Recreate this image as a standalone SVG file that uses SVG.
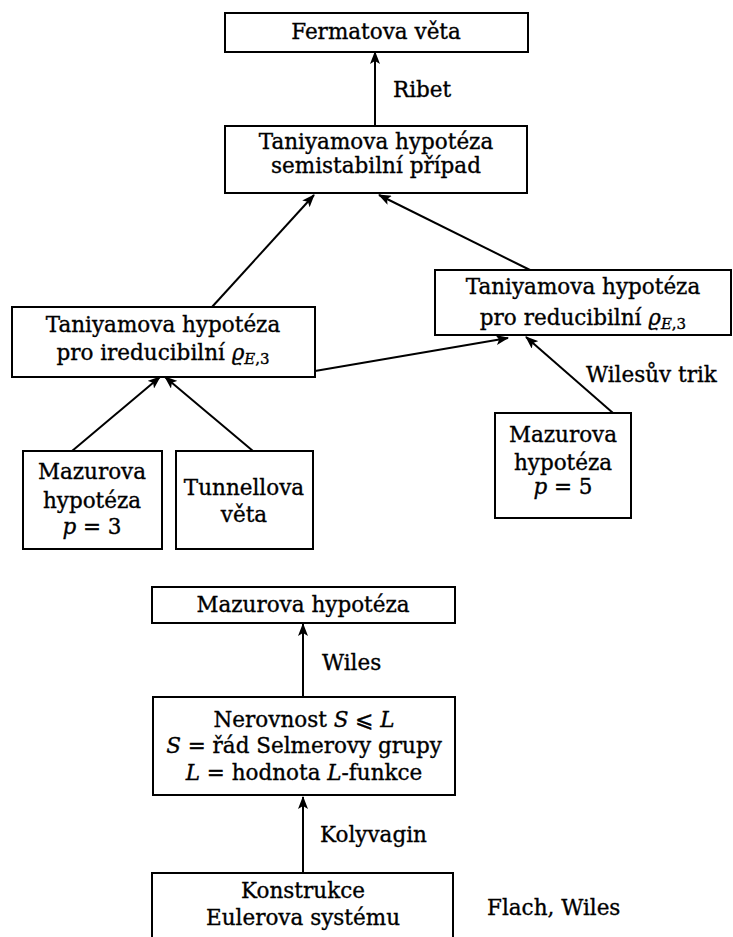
<svg xmlns="http://www.w3.org/2000/svg" width="733" height="937" viewBox="0 0 733 937">
<defs>
<style>
.box{fill:#fff;stroke:#000;stroke-width:2}
.t{font-family:"DejaVu Serif","Liberation Serif",serif;font-size:21.5px;fill:#000;stroke:#000;stroke-width:0.35;text-anchor:middle}
.l{font-family:"DejaVu Serif","Liberation Serif",serif;font-size:21.5px;fill:#000;stroke:#000;stroke-width:0.35}
.i{font-style:italic}
.s{font-size:15px}
.c{fill:none;stroke:#000;stroke-width:2}
</style>
<marker id="ah" viewBox="0 0 13 10" refX="12" refY="5" markerWidth="13" markerHeight="10" markerUnits="userSpaceOnUse" orient="auto">
<path d="M0,0 L13,5 L0,10 L3,5 z" fill="#000"/>
</marker>
</defs>
<rect width="733" height="937" fill="#fff"/>
<g id="connectors">
<line class="c" x1="375" y1="126" x2="375" y2="52" marker-end="url(#ah)"/>
<line class="c" x1="212" y1="307" x2="314" y2="195" marker-end="url(#ah)"/>
<line class="c" x1="530" y1="270" x2="379" y2="195" marker-end="url(#ah)"/>
<line class="c" x1="315" y1="371" x2="508" y2="338" marker-end="url(#ah)"/>
<line class="c" x1="613" y1="413" x2="526" y2="337" marker-end="url(#ah)"/>
<line class="c" x1="72" y1="451" x2="160" y2="377" marker-end="url(#ah)"/>
<line class="c" x1="253" y1="451" x2="165" y2="377" marker-end="url(#ah)"/>
<line class="c" x1="303" y1="697" x2="303" y2="624" marker-end="url(#ah)"/>
<line class="c" x1="303" y1="873" x2="303" y2="797" marker-end="url(#ah)"/>
<text class="l" x="393" y="97">Ribet</text>
<text class="l" x="586" y="382">Wilesův trik</text>
<text class="l" x="322" y="670">Wiles</text>
<text class="l" x="320" y="842">Kolyvagin</text>
<text class="l" x="487" y="915">Flach, Wiles</text>
</g>
<g id="fermat">
<rect class="box" x="225" y="13" width="303" height="39"/>
<text class="t" x="376" y="39">Fermatova věta</text>
</g>
<g id="tanisemi">
<rect class="box" x="225" y="126" width="302" height="67"/>
<text class="t" x="376" y="149">Taniyamova hypotéza</text>
<text class="t" x="376" y="173">semistabilní případ</text>
</g>
<g id="taniired">
<rect class="box" x="12" y="307" width="303" height="70"/>
<text class="t" x="163" y="332">Taniyamova hypotéza</text>
<text class="t" x="163" y="360">pro ireducibilní <tspan class="i">ϱ</tspan><tspan class="s" dy="4"><tspan class="i">E</tspan>,3</tspan></text>
</g>
<g id="tanired">
<rect class="box" x="435" y="270" width="296" height="65"/>
<text class="t" x="583" y="294">Taniyamova hypotéza</text>
<text class="t" x="583" y="325">pro reducibilní <tspan class="i">ϱ</tspan><tspan class="s" dy="4"><tspan class="i">E</tspan>,3</tspan></text>
</g>
<g id="mazur5">
<rect class="box" x="495" y="413" width="136" height="105"/>
<text class="t" x="563" y="442">Mazurova</text>
<text class="t" x="563" y="470">hypotéza</text>
<text class="t" x="563" y="494"><tspan class="i">p</tspan> = 5</text>
</g>
<g id="mazur3">
<rect class="box" x="23" y="451" width="139" height="98"/>
<text class="t" x="92" y="479">Mazurova</text>
<text class="t" x="92" y="508">hypotéza</text>
<text class="t" x="92" y="534"><tspan class="i">p</tspan> = 3</text>
</g>
<g id="tunnell">
<rect class="box" x="176" y="451" width="137" height="98"/>
<text class="t" x="244" y="495">Tunnellova</text>
<text class="t" x="244" y="522">věta</text>
</g>
<g id="mazur">
<rect class="box" x="152" y="587" width="303" height="36"/>
<text class="t" x="303" y="612">Mazurova hypotéza</text>
</g>
<g id="nerovnost">
<rect class="box" x="153" y="697" width="302" height="98"/>
<text class="t" x="304" y="727">Nerovnost <tspan class="i">S</tspan> ⩽ <tspan class="i">L</tspan></text>
<text class="t" x="304" y="753"><tspan class="i">S</tspan> = řád Selmerovy grupy</text>
<text class="t" x="304" y="780"><tspan class="i">L</tspan> = hodnota <tspan class="i">L</tspan>-funkce</text>
</g>
<g id="euler">
<rect class="box" x="152" y="873" width="301" height="80"/>
<text class="t" x="303" y="898">Konstrukce</text>
<text class="t" x="303" y="925">Eulerova systému</text>
</g>
</svg>
